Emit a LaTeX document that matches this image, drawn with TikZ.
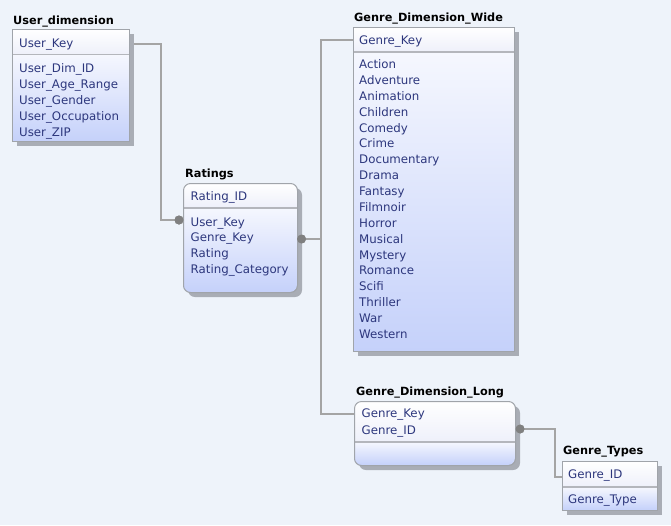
\documentclass[tikz,border=0pt]{standalone}
\usepackage{fontspec}
\setmainfont{DejaVu Sans}
\begin{document}
\definecolor{bgc}{HTML}{EEF3FA}
\definecolor{shadowc}{HTML}{A9ADB5}
\definecolor{bodytop}{HTML}{F5F7FE}
\definecolor{bodybot}{HTML}{C5D1FA}
\definecolor{headbot}{HTML}{EEF0FA}
\definecolor{borderc}{HTML}{A0A4AA}
\definecolor{sepc}{HTML}{B4B6BC}
\definecolor{linec}{HTML}{A4A4A4}
\definecolor{dotc}{HTML}{808080}
\definecolor{txtc}{RGB}{45,55,125}
\newcommand\erbox[7]{% name, x1, y1, x2, y2, ysep, radius
  \fill[shadowc, rounded corners=#7] (#2+5,#3+5) rectangle (#4+5,#5+5);
  \begin{scope}
    \clip[rounded corners=#7] (#2,#3) rectangle (#4,#5);
    \shade[top color=bodytop, bottom color=bodybot] (#2,#6) rectangle (#4,#5);
    \shade[top color=white, bottom color=headbot] (#2,#3) rectangle (#4,#6);
  \end{scope}
  \draw[sepc, line width=1.3pt] (#2,#6) -- (#4,#6);
  \node[draw=borderc, line width=1pt, rounded corners=#7, inner sep=0pt,
        anchor=north west, minimum width={(#4-#2)*1pt}, minimum height={(#5-#3)*1pt}]
        (#1) at (#2,#3) {};
}
\newcommand\rows[5]{%
  \foreach \t [count=\i from 0] in {#5} {%
    \node[ftxt, anchor=base west] (#1-\i) at (#2, {#3+#4*\i}) {\t};}%
}
\begin{tikzpicture}[x=1pt, y=-1pt,
  ftxt/.style={inner sep=0pt, text=txtc, font=\fontsize{11.8}{14}\selectfont},
  ftitle/.style={inner sep=0pt, text=black, font=\fontsize{11.3}{14}\selectfont\bfseries},
  conn/.style={linec, line width=1.3pt},
  fkdot/.style={circle, fill=dotc, inner sep=0pt, minimum size=9pt}]
\fill[bgc] (0,0) rectangle (671,525);
\useasboundingbox (0,0) rectangle (671,525);

% connectors
\coordinate (udk) at (129,44);
\coordinate (j1) at (161,220);
\coordinate (j2) at (321,239);
\coordinate (gdwk) at (353,40);
\coordinate (gdlk) at (354,414);
\coordinate (j3) at (555,429);
\coordinate (gtk) at (562,477);
\node[fkdot] (d1) at (179,220) {};
\node[fkdot] (d2) at (301.5,239) {};
\node[fkdot] (d3) at (520,429) {};
\draw[conn] (udk) -| (j1) -- (d1.center);
\draw[conn] (d2.center) -- (j2) |- (gdwk);
\draw[conn] (j2) |- (gdlk);
\draw[conn] (d3.center) -- (j3) |- (gtk);

% User_dimension
\erbox{ud}{12}{29}{129}{141}{54.5}{0}
\node[ftitle, anchor=base west] (ud-title) at (13,24.5) {User\_dimension};
\rows{udh}{19}{47}{16}{User\_Key}
\rows{udb}{19}{72}{16}{User\_Dim\_ID,User\_Age\_Range,User\_Gender,User\_Occupation,User\_ZIP}

% Ratings
\erbox{rt}{183}{183}{297}{292}{208}{7}
\node[ftitle, anchor=base west] (rt-title) at (185,177.5) {Ratings};
\rows{rth}{190.5}{200.5}{16}{Rating\_ID}
\rows{rtb}{190.5}{226.2}{15.6}{User\_Key,Genre\_Key,Rating,Rating\_Category}

% Genre_Dimension_Wide
\erbox{gdw}{353}{27}{514}{351}{52}{0}
\node[ftitle, anchor=base west] (gdw-title) at (354,21.5) {Genre\_Dimension\_Wide};
\rows{gdwh}{359}{44.5}{16}{Genre\_Key}
\rows{gdwb}{359}{68.5}{15.88}{Action,Adventure,Animation,Children,Comedy,Crime,Documentary,Drama,Fantasy,Filmnoir,Horror,Musical,Mystery,Romance,Scifi,Thriller,War,Western}

% Genre_Dimension_Long
\erbox{gdl}{354}{401}{515}{465}{442}{7}
\node[ftitle, anchor=base west] (gdl-title) at (356,395.5) {Genre\_Dimension\_Long};
\rows{gdlh}{361.5}{417.5}{17}{Genre\_Key,Genre\_ID}

% Genre_Types
\erbox{gt}{562}{461}{657}{510}{487}{0}
\node[ftitle, anchor=base west] (gt-title) at (563,454.5) {Genre\_Types};
\rows{gth}{568}{478.5}{16}{Genre\_ID}
\rows{gtb}{568}{503.8}{16}{Genre\_Type}

% dots on top
\node[fkdot] at (d1) {};
\node[fkdot] at (d2) {};
\node[fkdot] at (d3) {};
\end{tikzpicture}
\end{document}
